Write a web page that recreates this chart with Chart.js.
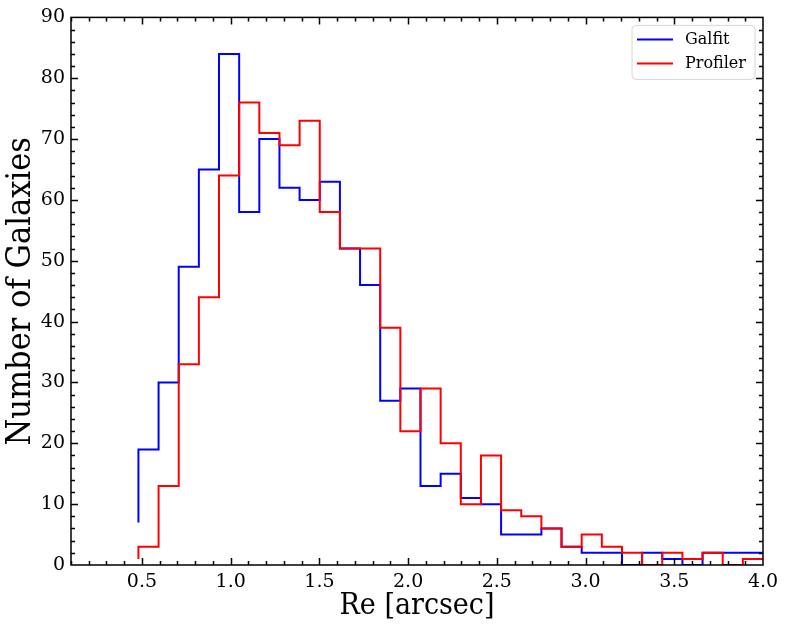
<!DOCTYPE html>
<html>
<head>
<meta charset="utf-8">
<script src="https://cdn.jsdelivr.net/npm/chart.js@4.4.1/dist/chart.umd.min.js"></script>
<style>
  html, body { margin: 0; padding: 0; background: #fff; }
  #wrap { width: 789px; height: 630px; }
</style>
</head>
<body>
<div id="wrap"><canvas id="histChart" width="789" height="630"></canvas></div>
<script>
// Histogram bins (Re in arcsec)
const binStart = 0.48;
const binWidth = 0.11355;

// counts per bin
const galfitCounts = [19, 30, 49, 65, 84, 58, 70, 62, 60, 63, 52, 46, 27, 29, 13, 15,
                      11, 10, 5, 5, 6, 3, 2, 2, 0, 2, 1, 0, 2, 2, 2];
const profilerCounts = [3, 13, 33, 44, 64, 76, 71, 69, 73, 58, 52, 52, 39, 22, 29, 20,
                        10, 18, 9, 8, 6, 3, 5, 3, 2, 0, 2, 1, 2, 0, 1];
// value where each outline starts at the first edge
const galfitFirst = 7;
const profilerFirst = 1;

const xTicks = [0.5, 1.0, 1.5, 2.0, 2.5, 3.0, 3.5, 4.0];
const yTicks = [0, 10, 20, 30, 40, 50, 60, 70, 80, 90];

// turn counts into step outline points at bin edges
function stepPoints(first, counts) {
    const pts = [{ x: binStart, y: first }];
    counts.forEach((c, i) => {
        pts.push({ x: binStart + (i + 1) * binWidth, y: c });
    });
    pts.push({ x: binStart + counts.length * binWidth, y: 0 });
    return pts;
}

const serif = "'DejaVu Serif', serif";
const serifCond = "'DejaVu Serif Condensed', 'DejaVu Serif', serif";

// frame + inward ticks on all four sides, like matplotlib
const frameTicks = {
    id: 'frameTicks',
    afterDraw(chart) {
        const { ctx, chartArea: a, scales: { x, y } } = chart;
        ctx.save();
        ctx.strokeStyle = '#000';
        ctx.lineWidth = 1.5;
        ctx.beginPath();
        for (let i = 1; i <= 39; i++) {
            const v = i / 10;
            const px = Math.round(x.getPixelForValue(v)) + 0.5;
            const len = (i % 5 === 0) ? 7 : 4;
            ctx.moveTo(px, a.bottom); ctx.lineTo(px, a.bottom - len);
            ctx.moveTo(px, a.top); ctx.lineTo(px, a.top + len);
        }
        for (let v = 2; v < 90; v += 2) {
            const py = Math.round(y.getPixelForValue(v)) + 0.5;
            const len = (v % 10 === 0) ? 7 : 4;
            ctx.moveTo(a.left, py); ctx.lineTo(a.left + len, py);
            ctx.moveTo(a.right, py); ctx.lineTo(a.right - len, py);
        }
        ctx.stroke();
        ctx.strokeRect(a.left, a.top, a.right - a.left, a.bottom - a.top);
        ctx.restore();
    }
};

// matplotlib-like legend box in the upper right
const boxLegend = {
    id: 'boxLegend',
    afterDraw(chart) {
        const { ctx, chartArea: a } = chart;
        const bx = a.right - 131, by = a.top + 8, bw = 123, bh = 54;
        ctx.save();
        ctx.beginPath();
        ctx.roundRect(bx, by, bw, bh, 4);
        ctx.fillStyle = 'rgba(255,255,255,0.8)';
        ctx.fill();
        ctx.strokeStyle = '#d6d6d6';
        ctx.lineWidth = 1;
        ctx.stroke();
        ctx.font = '16px ' + serif;
        ctx.textBaseline = 'middle';
        chart.data.datasets.forEach((ds, i) => {
            const ly = by + 14 + i * 24;
            ctx.strokeStyle = ds.borderColor;
            ctx.lineWidth = 2;
            ctx.beginPath();
            ctx.moveTo(bx + 5, ly); ctx.lineTo(bx + 41, ly);
            ctx.stroke();
            ctx.fillStyle = '#000';
            ctx.fillText(ds.label, bx + 53, ly);
        });
        ctx.restore();
    }
};

const ctx = document.getElementById('histChart').getContext('2d');
new Chart(ctx, {
    type: 'line',
    data: {
        datasets: [
            {
                label: 'Galfit',
                data: stepPoints(galfitFirst, galfitCounts),
                borderColor: '#0000ff',
                borderWidth: 2,
                pointRadius: 0,
                stepped: 'after',
                fill: false,
                order: 2
            },
            {
                label: 'Profiler',
                data: stepPoints(profilerFirst, profilerCounts),
                borderColor: '#ff0000',
                borderWidth: 2,
                pointRadius: 0,
                stepped: 'after',
                fill: false,
                order: 1
            }
        ]
    },
    options: {
        responsive: false,
        animation: false,
        devicePixelRatio: 1,
        layout: { padding: { top: 16, right: 26, left: 0, bottom: 0 } },
        plugins: { legend: { display: false }, tooltip: { enabled: false } },
        scales: {
            x: {
                type: 'linear',
                min: 0.1,
                max: 4.0,
                afterBuildTicks: s => { s.ticks = xTicks.map(v => ({ value: v })); },
                afterFit: s => { s.height = 65; },
                grid: { display: false, drawTicks: false },
                border: { display: false },
                ticks: {
                    color: '#000',
                    padding: 6,
                    maxRotation: 0,
                    autoSkip: false,
                    font: { family: serif, size: 19 },
                    callback: v => v.toFixed(1)
                },
                title: {
                    display: true,
                    text: 'Re [arcsec]',
                    color: '#000',
                    font: { family: serifCond, size: 30 },
                    padding: { top: 0, bottom: 6 }
                }
            },
            y: {
                min: 0,
                max: 90,
                afterBuildTicks: s => { s.ticks = yTicks.map(v => ({ value: v })); },
                afterFit: s => { s.width = 71; },
                grid: { display: false, drawTicks: false },
                border: { display: false },
                ticks: {
                    color: '#000',
                    padding: 6,
                    autoSkip: false,
                    font: { family: serif, size: 19 }
                },
                title: {
                    display: true,
                    text: 'Number of Galaxies',
                    color: '#000',
                    font: { family: serifCond, size: 34 },
                    padding: { top: 1, bottom: 0 }
                }
            }
        }
    },
    plugins: [frameTicks, boxLegend]
});
</script>
</body>
</html>
